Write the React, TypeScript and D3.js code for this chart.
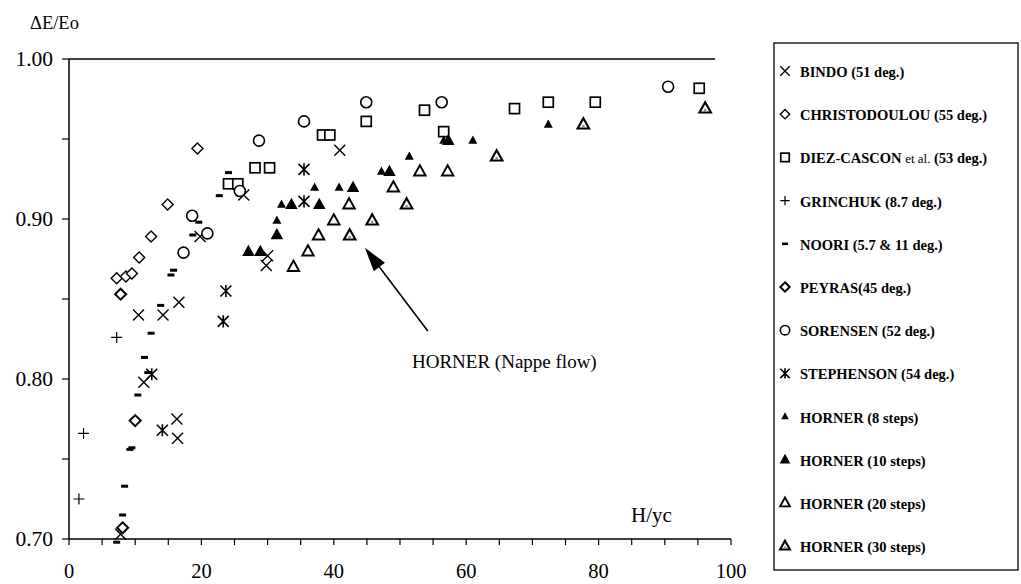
import React from 'react';
import * as d3 from 'd3';

// Energy dissipation ratio ΔE/Eo versus dimensionless dam height H/yc
type Pt = [number, number];

const bindo: Pt[] = [[7.8, 0.703], [10.5, 0.840], [11.3, 0.798], [14.2, 0.840], [16.6, 0.848], [16.3, 0.775], [16.4, 0.763], [19.8, 0.889], [26.4, 0.915], [30.0, 0.877], [29.8, 0.871], [40.9, 0.943]];
const christodoulou: Pt[] = [[19.4, 0.944], [14.9, 0.909], [12.4, 0.889], [10.6, 0.876], [7.2, 0.863], [8.6, 0.864], [9.5, 0.866]];
const diezCascon: Pt[] = [[24.1, 0.922], [25.5, 0.922], [28.1, 0.932], [30.3, 0.932], [38.3, 0.9525], [39.4, 0.9525], [44.9, 0.961], [53.7, 0.968], [56.6, 0.9546], [67.3, 0.969], [72.4, 0.973], [79.5, 0.973], [95.2, 0.9817]];
const grinchuk: Pt[] = [[7.2, 0.826], [2.2, 0.766], [1.5, 0.725]];
const noori: Pt[] = [[24.1, 0.929], [22.7, 0.9146], [19.6, 0.898], [18.7, 0.890], [15.8, 0.868], [15.4, 0.865], [13.85, 0.846], [12.4, 0.8286], [11.4, 0.8135], [11.9, 0.804], [10.4, 0.790], [9.2, 0.756], [9.5, 0.757], [8.4, 0.733], [8.1, 0.715], [7.2, 0.698]];
const peyras: Pt[] = [[7.8, 0.853], [10.0, 0.774], [8.1, 0.707]];
const sorensen: Pt[] = [[25.8, 0.9175], [18.6, 0.902], [20.9, 0.891], [17.3, 0.879], [28.7, 0.949], [35.5, 0.961], [44.9, 0.973], [56.3, 0.973], [90.5, 0.9827]];
const stephenson: Pt[] = [[12.5, 0.803], [14.1, 0.768], [23.7, 0.855], [23.3, 0.836], [35.5, 0.931], [35.5, 0.911]];
const horner8: Pt[] = [[31.4, 0.899], [32.1, 0.909], [37.1, 0.9196], [40.8, 0.9196], [47.2, 0.9296], [51.4, 0.939], [56.6, 0.949], [61.0, 0.949], [72.4, 0.959]];
const horner10: Pt[] = [[27.1, 0.8796], [28.9, 0.8796], [31.4, 0.890], [33.6, 0.909], [37.8, 0.909], [42.9, 0.9196], [48.4, 0.9296], [57.3, 0.949]];
const horner20: Pt[] = [[33.9, 0.870], [36.1, 0.8796], [37.7, 0.8896], [40.0, 0.899], [42.3, 0.909], [49.0, 0.9196], [53.0, 0.9296], [57.2, 0.9296]];
const horner30: Pt[] = [[42.4, 0.8896], [45.8, 0.899], [51.0, 0.909], [64.6, 0.939], [77.7, 0.959], [96.1, 0.969]];

const xTickLabels = [0, 20, 40, 60, 80, 100];
const yTickLabels = [0.7, 0.8, 0.9, 1.0];

type Kind = 'x' | 'diamond' | 'square' | 'plus' | 'dash' | 'diamondBold' | 'circle' | 'star' | 'triS' | 'triL' | 'triO' | 'triO2';

const seriesList: { name: string; kind: Kind; data: Pt[] }[] = [
  { name: 'BINDO (51 deg.)', kind: 'x', data: bindo },
  { name: 'CHRISTODOULOU (55 deg.)', kind: 'diamond', data: christodoulou },
  { name: 'DIEZ-CASCON', kind: 'square', data: diezCascon },
  { name: 'GRINCHUK (8.7 deg.)', kind: 'plus', data: grinchuk },
  { name: 'NOORI (5.7 & 11 deg.)', kind: 'dash', data: noori },
  { name: 'PEYRAS(45 deg.)', kind: 'diamondBold', data: peyras },
  { name: 'SORENSEN (52 deg.)', kind: 'circle', data: sorensen },
  { name: 'STEPHENSON (54 deg.)', kind: 'star', data: stephenson },
  { name: 'HORNER (8 steps)', kind: 'triS', data: horner8 },
  { name: 'HORNER (10 steps)', kind: 'triL', data: horner10 },
  { name: 'HORNER (20 steps)', kind: 'triO', data: horner20 },
  { name: 'HORNER (30 steps)', kind: 'triO2', data: horner30 },
];

const W = 1021;
const H = 584;
const left = 69, right = 731, top = 59, bottom = 539;
const FONT = '"Liberation Serif", "Times New Roman", serif';

const x = d3.scaleLinear().domain([0, 100]).range([left, right]);
const y = d3.scaleLinear().domain([0.7, 1.0]).range([bottom, top]);

function tri(cx: number, cy: number, s: number) {
  const h = s * 0.9;
  return `M${cx},${cy - h * 0.62}L${cx + s / 2},${cy + h * 0.38}L${cx - s / 2},${cy + h * 0.38}Z`;
}

function Marker({ kind, cx, cy, scale = 1 }: { kind: Kind; cx: number; cy: number; scale?: number }) {
  const k = scale;
  const sw = 1.4;
  switch (kind) {
    case 'x': {
      const r = 5.5 * k;
      return <path d={`M${cx - r},${cy - r}L${cx + r},${cy + r}M${cx - r},${cy + r}L${cx + r},${cy - r}`} stroke="#000" strokeWidth={sw} fill="none" />;
    }
    case 'diamond':
    case 'diamondBold': {
      const r = 5.5 * k;
      return <path d={`M${cx},${cy - r}L${cx + r},${cy}L${cx},${cy + r}L${cx - r},${cy}Z`} stroke="#000" strokeWidth={kind === 'diamondBold' ? 2 : sw} fill="#fff" />;
    }
    case 'square': {
      const r = 5 * k;
      return <rect x={cx - r} y={cy - r} width={2 * r} height={2 * r} stroke="#000" strokeWidth={sw + 0.3} fill="#fff" />;
    }
    case 'plus': {
      const r = 5.5 * k;
      return <path d={`M${cx - r},${cy}L${cx + r},${cy}M${cx},${cy - r}L${cx},${cy + r}`} stroke="#000" strokeWidth={sw - 0.2} fill="none" />;
    }
    case 'dash':
      return <rect x={cx - 3.5 * k} y={cy - 1.5 * k} width={7 * k} height={3 * k} fill="#000" />;
    case 'circle':
      return <circle cx={cx} cy={cy} r={5.5 * k} stroke="#000" strokeWidth={sw + 0.2} fill="#fff" />;
    case 'star': {
      const r = 5.5 * k;
      return <path d={`M${cx - r},${cy - r}L${cx + r},${cy + r}M${cx - r},${cy + r}L${cx + r},${cy - r}M${cx},${cy - r * 1.1}L${cx},${cy + r * 1.1}`} stroke="#000" strokeWidth={sw + 0.2} fill="none" />;
    }
    case 'triS':
      return <path d={tri(cx, cy, 9 * k)} fill="#000" />;
    case 'triL':
      return <path d={tri(cx, cy, 12.5 * k)} fill="#000" />;
    case 'triO':
      return <path d={tri(cx, cy, 11.5 * k)} fill="#fff" stroke="#000" strokeWidth={1.9} />;
    case 'triO2':
      return (
        <g>
          <path d={tri(cx, cy, 11.5 * k)} fill="#fff" stroke="#000" strokeWidth={2.1} />
          <circle cx={cx} cy={cy + 1.5 * k} r={1.3 * k} fill="#888" />
        </g>
      );
  }
  return null;
}

export default function App() {
  const minorX = d3.range(0, 100.01, 5);
  const minorY = d3.range(0.7, 1.0001, 0.05);
  const legendX = 774, legendTop = 43, legendBottom = 570, legendRight = 1018;
  const legendY0 = 72, legendStep = 43.2;

  // arrow from label towards the HORNER cluster (data coordinates)
  const arrowTail: Pt = [54.2, 0.830];
  const arrowTip: Pt = [44.7, 0.882];
  const tx = x(arrowTail[0]), ty = y(arrowTail[1]);
  const hx = x(arrowTip[0]), hy = y(arrowTip[1]);
  const ang = Math.atan2(hy - ty, hx - tx);
  const hl = 24, hw = 7;
  const bx = hx - hl * Math.cos(ang), by = hy - hl * Math.sin(ang);
  const head = `M${hx},${hy}L${bx + hw * Math.sin(ang)},${by - hw * Math.cos(ang)}L${bx - hw * Math.sin(ang)},${by + hw * Math.cos(ang)}Z`;

  return (
    <svg width={W} height={H} style={{ position: 'absolute', left: 0, top: 0, background: '#fff' }} fontFamily={FONT}>
      <rect width={W} height={H} fill="#fff" />
      {/* axes */}
      <line x1={left} y1={top} x2={left} y2={bottom} stroke="#000" strokeWidth={1.5} />
      <line x1={left} y1={bottom} x2={right} y2={bottom} stroke="#000" strokeWidth={1.5} />
      <line x1={left} y1={top} x2={715} y2={top} stroke="#000" strokeWidth={1.5} />
      {minorY.map((v, i) => (
        <line key={'yt' + i} x1={left - 7} y1={y(v)} x2={left} y2={y(v)} stroke="#000" strokeWidth={1.2} />
      ))}
      {minorX.map((v, i) => (
        <line key={'xt' + i} x1={x(v)} y1={bottom} x2={x(v)} y2={bottom + 6} stroke="#000" strokeWidth={1.2} />
      ))}
      {yTickLabels.map((v) => (
        <text key={'yl' + v} x={53} y={y(v) + 7} textAnchor="end" fontSize={21.5}>
          {v.toFixed(2)}
        </text>
      ))}
      {xTickLabels.map((v) => (
        <text key={'xl' + v} x={x(v)} y={578} textAnchor="middle" fontSize={20.5}>
          {v}
        </text>
      ))}
      <text x={30} y={29} fontSize={18.5}>ΔE/Eo</text>
      <text x={631} y={522} fontSize={21}>H/yc</text>
      <text x={412} y={368} fontSize={19}>HORNER (Nappe flow)</text>
      <line x1={tx} y1={ty} x2={bx} y2={by} stroke="#000" strokeWidth={1.6} />
      <path d={head} fill="#000" />

      {/* data */}
      {seriesList.map((s) => (
        <g key={s.name}>
          {s.data.map((p, i) => (
            <Marker key={i} kind={s.kind} cx={x(p[0])} cy={y(p[1])} />
          ))}
        </g>
      ))}

      {/* legend */}
      <rect x={legendX} y={legendTop} width={legendRight - legendX} height={legendBottom - legendTop} fill="none" stroke="#000" strokeWidth={1.3} />
      {seriesList.map((s, i) => {
        const ly = legendY0 + i * legendStep;
        return (
          <g key={'lg' + i}>
            <Marker kind={s.kind} cx={785} cy={ly - 1} scale={0.85} />
            <text x={800} y={ly + 5} fontSize={14.5} fontWeight="bold">
              {s.kind === 'square' ? (
                <>
                  DIEZ-CASCON <tspan fontWeight="normal" fontSize={13}>et al.</tspan> (53 deg.)
                </>
              ) : (
                s.name
              )}
            </text>
          </g>
        );
      })}
    </svg>
  );
}
